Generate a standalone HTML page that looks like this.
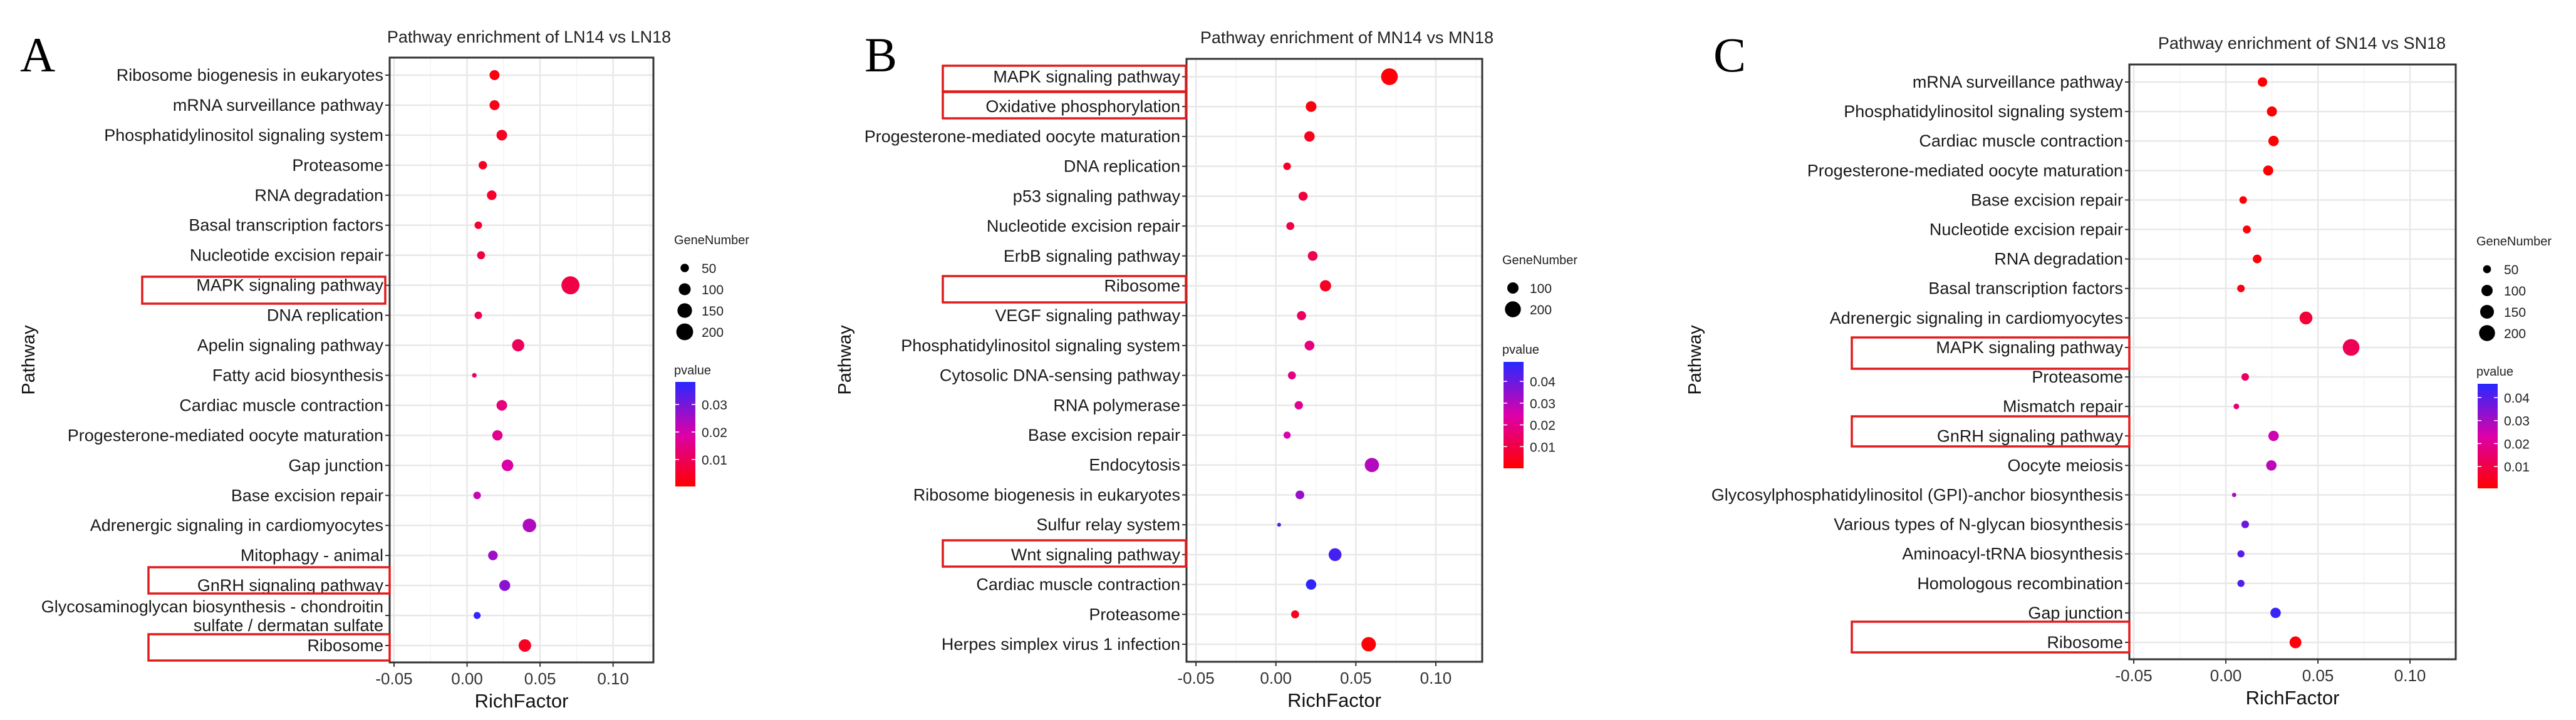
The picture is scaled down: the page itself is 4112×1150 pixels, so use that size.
<!DOCTYPE html>
<html><head><meta charset="utf-8">
<style>
html,body{margin:0;padding:0;background:#fff;}
svg{display:block;font-family:"Liberation Sans",Arial,sans-serif;}
</style></head>
<body>
<svg id="fig" width="4112" height="1150" viewBox="0 0 4112 1150" xmlns="http://www.w3.org/2000/svg">
<rect x="0" y="0" width="4112" height="1150" fill="#fff"/>
</svg>
<script>
// ---------- Panel A data ----------
const catsA = ["Ribosome biogenesis in eukaryotes","mRNA surveillance pathway","Phosphatidylinositol signaling system","Proteasome","RNA degradation","Basal transcription factors","Nucleotide excision repair","MAPK signaling pathway","DNA replication","Apelin signaling pathway","Fatty acid biosynthesis","Cardiac muscle contraction","Progesterone-mediated oocyte maturation","Gap junction","Base excision repair","Adrenergic signaling in cardiomyocytes","Mitophagy - animal","GnRH signaling pathway","Glycosaminoglycan biosynthesis - chondroitin|sulfate / dermatan sulfate","Ribosome"];
const richA = [0.0188,0.0188,0.0238,0.0108,0.0169,0.0077,0.0096,0.0708,0.0077,0.035,0.005,0.0238,0.0208,0.0277,0.0069,0.0427,0.0177,0.0258,0.0069,0.0396];
const genesA = [70,70,80,50,65,40,45,230,40,105,15,80,75,95,40,130,65,85,35,110];
const pvalA = [0.002,0.003,0.004,0.004,0.005,0.006,0.007,0.008,0.009,0.010,0.012,0.014,0.016,0.019,0.021,0.024,0.026,0.028,0.037,0.004];
const sizeTicksA = [50,100,150,200];
const pTicksA = [0.01,0.02,0.03];
// ---------- Panel B data ----------
const catsB = ["MAPK signaling pathway","Oxidative phosphorylation","Progesterone-mediated oocyte maturation","DNA replication","p53 signaling pathway","Nucleotide excision repair","ErbB signaling pathway","Ribosome","VEGF signaling pathway","Phosphatidylinositol signaling system","Cytosolic DNA-sensing pathway","RNA polymerase","Base excision repair","Endocytosis","Ribosome biogenesis in eukaryotes","Sulfur relay system","Wnt signaling pathway","Cardiac muscle contraction","Proteasome","Herpes simplex virus 1 infection"];
const richB = [0.071,0.022,0.021,0.007,0.017,0.009,0.023,0.031,0.016,0.021,0.010,0.0143,0.007,0.060,0.015,0.002,0.037,0.022,0.012,0.058];
const genesB = [220,90,85,45,65,50,75,100,65,75,50,55,40,160,60,12,130,85,50,165];
const pvalB = [0.001,0.002,0.004,0.006,0.009,0.010,0.012,0.005,0.014,0.018,0.019,0.021,0.025,0.030,0.034,0.044,0.045,0.048,0.004,0.001];
const sizeTicksB = [100,200];
const pTicksB = [0.01,0.02,0.03,0.04];
// ---------- Panel C data ----------
const catsC = ["mRNA surveillance pathway","Phosphatidylinositol signaling system","Cardiac muscle contraction","Progesterone-mediated oocyte maturation","Base excision repair","Nucleotide excision repair","RNA degradation","Basal transcription factors","Adrenergic signaling in cardiomyocytes","MAPK signaling pathway","Proteasome","Mismatch repair","GnRH signaling pathway","Oocyte meiosis","Glycosylphosphatidylinositol (GPI)-anchor biosynthesis","Various types of N-glycan biosynthesis","Aminoacyl-tRNA biosynthesis","Homologous recombination","Gap junction","Ribosome"];
const richC = [0.0199,0.025,0.0259,0.023,0.0094,0.0114,0.017,0.0082,0.0435,0.068,0.0105,0.0057,0.0259,0.0247,0.0045,0.0105,0.0082,0.0082,0.027,0.0378];
const genesC = [70,80,85,80,45,50,60,45,130,220,45,25,85,85,15,45,40,40,85,110];
const pvalC = [0.001,0.001,0.001,0.001,0.001,0.002,0.002,0.003,0.008,0.012,0.014,0.016,0.025,0.027,0.029,0.037,0.040,0.041,0.044,0.002];
const sizeTicksC = [50,100,150,200];
const pTicksC = [0.01,0.02,0.03,0.04];
const xTicks = [-0.05,0.00,0.05,0.10];
const xTickLabels = ["-0.05","0.00","0.05","0.10"];

const NS="http://www.w3.org/2000/svg";
const svg=document.getElementById('fig');
function mk(tag,attrs,parent){const e=document.createElementNS(NS,tag);for(const k in attrs)e.setAttribute(k,attrs[k]);(parent||svg).appendChild(e);return e;}
function lerp(a,b,t){return a+(b-a)*t;}
function pcol(t){t=Math.max(0,Math.min(1,t));let c;
 if(t<0.5){const u=t/0.5;c=[lerp(255,220,u),0,lerp(0,170,u)];}
 else{const u=(t-0.5)/0.5;c=[lerp(220,40,u),lerp(0,40,u),lerp(170,255,u)];}
 return `rgb(${c.map(Math.round).join(',')})`;}

function panel(id,g,cats,rich,genes,pv,sizeTicks,pTicks){
 const grp=mk('g',{});
 
 
 const xs=v=>g.L+(v-g.xmin)/(g.xmax-g.xmin)*(g.R-g.L);
 const n=cats.length;
 const ys=i=>g.y0+(g.y1-g.y0)*i/(n-1);
 const rs=v=>g.k*Math.sqrt(v);
 const col=p=>pcol((p-g.pmin)/(g.pmax-g.pmin));
 const lt=mk('text',{x:g.letX,y:g.letY,'font-family':'"Liberation Serif",serif','font-size':78,fill:'#000'},grp);
 lt.textContent=id;
 
 
 const tt=mk('text',{x:(g.L+g.R)/2+g.tdx,y:g.titleY,'text-anchor':'middle','font-size':27,fill:'#222'},grp);
 tt.textContent=g.title;
 
 
 for(let i=0;i<xTicks.length-1;i++){const m=(xTicks[i]+xTicks[i+1])/2;
  mk('line',{x1:xs(m),x2:xs(m),y1:g.T,y2:g.B,stroke:'#f4f4f4','stroke-width':1.5},grp);}
 const last=xTicks[xTicks.length-1]+0.025; if(last<g.xmax) mk('line',{x1:xs(last),x2:xs(last),y1:g.T,y2:g.B,stroke:'#f4f4f4','stroke-width':1.5},grp);
 xTicks.forEach(v=>mk('line',{x1:xs(v),x2:xs(v),y1:g.T,y2:g.B,stroke:'#e8e8e8','stroke-width':2.5},grp));
 for(let i=0;i<n;i++) mk('line',{x1:g.L,x2:g.R,y1:ys(i),y2:ys(i),stroke:'#e8e8e8','stroke-width':2.5},grp);
 for(let i=0;i<n;i++){
  const c=mk('circle',{cx:xs(rich[i]),cy:ys(i),r:rs(genes[i]),fill:col(pv[i])},grp);
  
  
 }
 const bx=mk('rect',{x:g.L,y:g.T,width:g.R-g.L,height:g.B-g.T,fill:'none',stroke:'#333','stroke-width':3},grp);
 
 
 for(let i=0;i<n;i++){
  mk('line',{x1:g.L-7,x2:g.L,y1:ys(i),y2:ys(i),stroke:'#333','stroke-width':2},grp);
  const parts=cats[i].split('|');
  parts.forEach((s,j)=>{
   const dy=parts.length>1?(j===0?-14:16):0;
   const t=mk('text',{x:g.L-10,y:ys(i)+9+dy,'text-anchor':'end','font-size':27,fill:'#1a1a1a'},grp);
   t.textContent=s;
   
   
  });
 }
 xTicks.forEach((v,i)=>{
  mk('line',{x1:xs(v),x2:xs(v),y1:g.B,y2:g.B+7,stroke:'#333','stroke-width':2},grp);
  const t=mk('text',{x:xs(v),y:g.B+35,'text-anchor':'middle','font-size':26,fill:'#333'},grp);
  t.textContent=xTickLabels[i];
  
  
 });
 const xt=mk('text',{x:(g.L+g.R)/2,y:g.B+72,'text-anchor':'middle','font-size':31,fill:'#111'},grp);
 xt.textContent='RichFactor';
 
 
 const yt=mk('text',{x:0,y:0,'text-anchor':'middle','font-size':29,fill:'#111',transform:`translate(${g.ylabX},575) rotate(-90)`},grp);
 yt.textContent='Pathway';
 
 
 g.boxes.forEach(b=>{const r=mk('rect',{x:b[0],y:b[1],width:b[2]-b[0],height:b[3]-b[1],fill:'none',stroke:'#e01b1b','stroke-width':3.5},grp);
  
  });
 const st=mk('text',{x:g.legX,y:g.gnY,'font-size':20,fill:'#222'},grp);
 st.textContent='GeneNumber';
 
 
 sizeTicks.forEach((v,i)=>{
  const yy=g.gnY+38+i*g.gnStep;
  const c=mk('circle',{cx:g.legX+17,cy:yy,r:rs(v),fill:'#000'},grp);
  
  
  const t=mk('text',{x:g.legX+44,y:yy+8,'font-size':21,fill:'#222'},grp);
  t.textContent=String(v);
  
  
 });
 const pt=mk('text',{x:g.legX,y:g.pvY,'font-size':20,fill:'#222'},grp);
 pt.textContent='pvalue';
 
 
 const gid='grad'+id;
 const defs=mk('defs',{},grp);
 const lg=mk('linearGradient',{id:gid,x1:0,y1:1,x2:0,y2:0},defs);
 for(let s=0;s<=10;s++) mk('stop',{offset:s/10,'stop-color':pcol(s/10)},lg);
 const cb=mk('rect',{x:g.cbX,y:g.cbT,width:32,height:g.cbB-g.cbT,fill:`url(#${gid})`},grp);
 
 
 const cy=p=>g.cbB-(p-g.pmin)/(g.pmax-g.pmin)*(g.cbB-g.cbT);
 pTicks.forEach(p=>{
  mk('line',{x1:g.cbX,x2:g.cbX+6,y1:cy(p),y2:cy(p),stroke:'#fff','stroke-width':1.5},grp);
  mk('line',{x1:g.cbX+26,x2:g.cbX+32,y1:cy(p),y2:cy(p),stroke:'#fff','stroke-width':1.5},grp);
  const t=mk('text',{x:g.cbX+42,y:cy(p)+8,'font-size':21,fill:'#222'},grp);
  t.textContent=p.toFixed(2);
  
  
 });
}

panel('A',{L:622,R:1043,T:92,B:1058,xmin:-0.053,xmax:0.1276,y0:120,y1:1031,k:0.95,
 pmin:0.0002,pmax:0.0382,title:'Pathway enrichment of LN14 vs LN18',titleY:68,tdx:12,letX:32,letY:114,ylabX:55,
 boxes:[[227,442,615,485],[237,906,622,948],[237,1013,622,1055]],
 legX:1076,gnY:390,gnStep:34,pvY:598,cbX:1078,cbT:610,cbB:777},
 catsA,richA,genesA,pvalA,sizeTicksA,pTicksA);
panel('B',{L:1894,R:2366,T:94,B:1057,xmin:-0.0559,xmax:0.129,y0:122.5,y1:1029,k:0.9,
 pmin:0.0,pmax:0.049,title:'Pathway enrichment of MN14 vs MN18',titleY:69,tdx:20,letX:1380,letY:114,ylabX:1358,
 boxes:[[1505,105,1893,146],[1505,147,1893,189],[1505,441,1893,483],[1505,863,1893,905]],
 legX:2398,gnY:422,gnStep:34,pvY:565,cbX:2400,cbT:578,cbB:748},
 catsB,richB,genesB,pvalB,sizeTicksB,pTicksB);
panel('C',{L:3399,R:3920,T:103,B:1053,xmin:-0.0524,xmax:0.1248,y0:131,y1:1026,k:0.9,
 pmin:0.0005,pmax:0.046,title:'Pathway enrichment of SN14 vs SN18',titleY:78,tdx:15,letX:2735,letY:114,ylabX:2715,
 boxes:[[2956,539,3399,589],[2956,665,3399,713],[2956,993,3399,1042]],
 legX:3953,gnY:392,gnStep:34,pvY:600,cbX:3955,cbT:613,cbB:780},
 catsC,richC,genesC,pvalC,sizeTicksC,pTicksC);
</script>
</body></html>
